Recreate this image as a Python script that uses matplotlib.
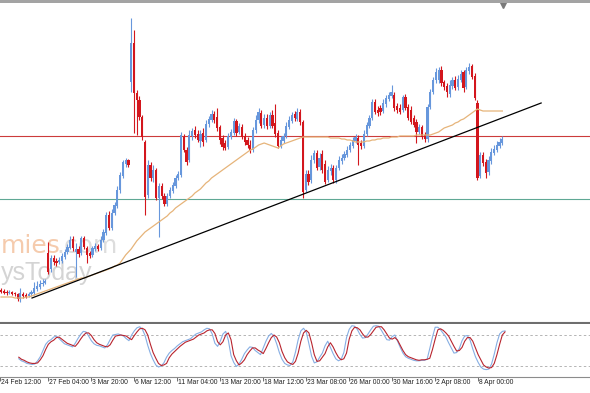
import numpy as np
import matplotlib
matplotlib.use("Agg")
import matplotlib.pyplot as plt
from matplotlib.patches import Rectangle
from matplotlib.transforms import blended_transform_factory

# 4H candles, prices in chart points (the price scale is cropped off in the screenshot)
opens = [110, 109, 108, 107, 108, 107, 106, 101, 106, 105,
         104, 106, 107, 111, 113, 116, 117, 147, 131, 142,
         139, 138, 139, 143, 148, 152, 161, 148, 151, 147,
         162, 152, 147, 145, 151, 154, 152, 160, 167, 185,
         172, 187, 194, 210, 224, 236, 240, 318, 357, 307,
         300, 283, 258, 205, 235, 222, 230, 202, 214, 204,
         196, 204, 209, 214, 222, 225, 263, 250, 240, 264,
         270, 266, 259, 267, 260, 276, 280, 286, 283, 273,
         262, 257, 253, 263, 267, 279, 268, 273, 264, 260,
         255, 250, 270, 280, 287, 275, 282, 274, 285, 277,
         267, 254, 259, 264, 273, 279, 286, 281, 288, 278,
         210, 226, 220, 240, 247, 233, 246, 236, 220, 229,
         232, 220, 232, 239, 242, 245, 250, 254, 259, 262,
         257, 254, 266, 274, 282, 298, 290, 292, 289, 296,
         301, 304, 305, 294, 292, 290, 303, 293, 290, 282,
         278, 268, 273, 265, 261, 293, 308, 320, 320, 330,
         318, 314, 306, 314, 320, 313, 320, 328, 313, 329,
         334, 324, 297, 224, 245, 238, 228, 239, 247, 250,
         254, 257]
closes = [108, 107, 107, 108, 106, 106, 101, 107, 104, 103,
          106, 108, 112, 114, 116, 117, 119, 128, 142, 138,
          137, 140, 144, 148, 153, 160, 152, 151, 146, 162,
          153, 145, 144, 152, 154, 151, 160, 168, 185, 172,
          187, 195, 210, 225, 238, 240, 235, 357, 307, 300,
          283, 263, 203, 235, 222, 230, 202, 214, 204, 196,
          204, 210, 215, 222, 226, 265, 250, 238, 265, 269,
          265, 260, 266, 258, 276, 281, 286, 280, 272, 260,
          253, 252, 264, 268, 279, 267, 274, 263, 258, 255,
          249, 270, 280, 288, 274, 282, 274, 285, 274, 266,
          254, 260, 264, 274, 280, 285, 282, 288, 278, 208,
          226, 218, 240, 247, 232, 242, 230, 218, 230, 232,
          220, 232, 240, 242, 246, 250, 255, 260, 263, 255,
          254, 266, 275, 282, 298, 288, 287, 288, 297, 302,
          305, 308, 292, 290, 288, 303, 292, 282, 278, 275,
          268, 273, 263, 261, 293, 308, 320, 328, 330, 317,
          313, 308, 315, 320, 312, 321, 326, 312, 330, 333,
          323, 302, 222, 245, 237, 227, 240, 248, 251, 255,
          258, 261]
highs = [112, 111, 110, 110, 109, 108, 107, 112, 108, 107,
         108, 110, 118, 119, 120, 121, 121, 158, 145, 145,
         142, 143, 147, 151, 156, 164, 164, 157, 154, 164,
         164, 154, 149, 154, 157, 156, 164, 171, 188, 189,
         191, 198, 214, 228, 240, 242, 241, 382, 370, 310,
         304, 285, 260, 240, 238, 235, 232, 217, 217, 207,
         207, 213, 218, 225, 229, 268, 266, 253, 270, 272,
         274, 270, 270, 272, 280, 284, 290, 289, 292, 275,
         265, 260, 267, 271, 282, 281, 277, 276, 267, 263,
         260, 273, 285, 292, 290, 286, 286, 288, 290, 296,
         270, 264, 267, 278, 284, 288, 289, 292, 291, 280,
         230, 230, 245, 250, 250, 247, 250, 240, 234, 236,
         235, 235, 244, 246, 249, 254, 258, 263, 266, 265,
         260, 270, 278, 285, 301, 301, 294, 295, 301, 305,
         308, 315, 308, 297, 296, 305, 306, 296, 294, 285,
         281, 276, 275, 268, 296, 311, 323, 332, 333, 334,
         320, 317, 320, 323, 324, 325, 330, 330, 333, 337,
         336, 327, 300, 248, 248, 241, 244, 252, 255, 259,
         262, 264]
lows = [107, 106, 105, 106, 105, 104, 99, 98, 102, 102,
        103, 104, 105, 109, 111, 114, 116, 126, 128, 135,
        134, 136, 137, 141, 146, 151, 149, 123, 143, 145,
        151, 137, 142, 143, 149, 149, 150, 158, 165, 170,
        170, 185, 192, 207, 222, 233, 233, 308, 267, 265,
        280, 260, 185, 202, 219, 218, 200, 163, 201, 194,
        194, 202, 207, 212, 220, 223, 248, 235, 238, 260,
        262, 258, 253, 254, 258, 273, 278, 277, 269, 256,
        250, 250, 251, 261, 265, 264, 266, 261, 255, 252,
        247, 248, 267, 277, 272, 272, 271, 272, 272, 263,
        252, 252, 257, 262, 271, 277, 279, 279, 275, 202,
        208, 215, 217, 237, 230, 230, 227, 216, 218, 225,
        217, 217, 230, 236, 240, 243, 248, 252, 257, 235,
        251, 252, 264, 272, 280, 286, 284, 285, 287, 293,
        299, 302, 289, 287, 286, 288, 290, 280, 276, 273,
        257, 266, 261, 258, 258, 291, 306, 317, 317, 314,
        310, 303, 303, 311, 310, 310, 318, 308, 311, 326,
        321, 300, 220, 222, 234, 222, 225, 236, 245, 248,
        252, 255]

# moving average (orange)
ma_line = [103, 103, 103, 103, 103, 102, 102, 102, 102, 103,
           103, 104, 105, 106, 107, 108, 109, 110, 111, 112,
           113, 114, 115, 116, 117, 118, 119, 120, 121, 122,
           122, 123, 124, 125, 126, 127, 128, 129, 130, 131,
           132, 134, 135, 137, 141, 145, 148, 151, 155, 159,
           162, 165, 168, 170, 172, 174, 176, 178, 180, 182,
           184, 187, 189, 192, 194, 196, 198, 200, 202, 204,
           207, 209, 211, 214, 217, 219, 222, 224, 226, 228,
           230, 232, 234, 236, 238, 240, 242, 244, 246, 248,
           250, 251, 253, 255, 256, 257, 256, 255, 254, 253,
           252, 254, 256, 257, 258, 259, 260, 261, 262, 263,
           263, 263, 263, 263, 263, 263, 263, 263, 263, 262,
           262, 262, 262, 261, 261, 260, 260, 259, 258, 258,
           258, 258, 259, 259, 260, 260, 261, 261, 262, 262,
           262, 263, 263, 263, 264, 264, 264, 264, 264, 264,
           265, 265, 265, 265, 265, 265, 266, 267, 268, 270,
           272, 273, 274, 275, 277, 278, 280, 281, 283, 285,
           287, 289, 291, 290, 289, 289, 289, 289, 289, 289,
           289, 289]

# stochastic oscillator: main (blue) and signal (red)
stoch_main = [34, 30, 28, 25, 24, 23, 24, 30, 38, 50,
              62, 68, 71, 76, 78, 73, 68, 63, 61, 59,
              57, 64, 73, 81, 87, 86, 78, 69, 63, 60,
              59, 57, 55, 61, 71, 80, 81, 82, 80, 78,
              73, 69, 80, 88, 94, 96, 91, 79, 60, 44,
              32, 22, 18, 20, 26, 37, 45, 50, 54, 59,
              63, 67, 69, 71, 73, 78, 82, 84, 86, 90,
              93, 92, 82, 64, 58, 68, 82, 87, 70, 40,
              27, 19, 24, 33, 44, 51, 57, 56, 50, 46,
              42, 55, 68, 78, 83, 77, 63, 46, 33, 25,
              22, 21, 28, 47, 71, 88, 93, 86, 63, 39,
              26, 28, 37, 45, 59, 68, 56, 44, 34, 30,
              33, 46, 75, 91, 98, 97, 91, 81, 74, 75,
              82, 90, 97, 98, 97, 89, 80, 71, 70, 77,
              80, 68, 56, 45, 38, 35, 33, 31, 30, 30,
              31, 31, 33, 54, 76, 95, 95, 90, 83, 76,
              65, 55, 45, 46, 54, 69, 78, 79, 70, 53,
              38, 27, 18, 14, 13, 14, 24, 43, 65, 82,
              87, 88]
stoch_signal = [37, 33, 31, 28, 26, 25, 25, 26, 32, 40,
                52, 62, 67, 70, 75, 76, 72, 68, 64, 62,
                60, 58, 64, 72, 79, 84, 84, 79, 71, 65,
                62, 60, 58, 57, 61, 70, 78, 79, 80, 79,
                78, 74, 71, 79, 86, 92, 93, 90, 80, 62,
                46, 35, 25, 21, 22, 25, 36, 43, 48, 53,
                58, 62, 66, 68, 70, 72, 76, 80, 82, 84,
                88, 90, 90, 83, 67, 61, 67, 80, 84, 71,
                42, 30, 22, 26, 32, 42, 49, 55, 55, 51,
                48, 44, 54, 65, 75, 80, 76, 65, 48, 36,
                28, 25, 23, 29, 45, 68, 84, 89, 84, 65,
                42, 29, 30, 37, 44, 57, 65, 57, 46, 37,
                32, 34, 45, 72, 88, 95, 94, 90, 82, 76,
                76, 81, 88, 95, 96, 96, 90, 82, 74, 72,
                75, 70, 60, 50, 42, 38, 36, 34, 32, 31,
                32, 32, 33, 35, 52, 72, 90, 92, 89, 84,
                78, 68, 58, 49, 50, 56, 68, 75, 75, 68,
                55, 42, 32, 22, 18, 16, 17, 25, 42, 62,
                80, 86]

# drawn objects: trend line, horizontal levels
trend_bars = [11.2, 195.0]
trend_prices = [102, 297]
red_level = 264.5
teal_level = 200.7
stoch_levels = [20, 80]

tick_bars = [-7, 11, 27, 43, 59, 75, 91, 107, 123, 139, 155, 171]
tick_labels = ["24 Feb 12:00", "27 Feb 04:00", "3 Mar 20:00", "6 Mar 12:00",
               "11 Mar 04:00", "13 Mar 20:00", "18 Mar 12:00", "23 Mar 08:00",
               "26 Mar 00:00", "30 Mar 16:00", "2 Apr 08:00", "8 Apr 00:00"]

o = np.array(opens, dtype=float)
c = np.array(closes, dtype=float)
hi = np.array(highs, dtype=float)
lo = np.array(lows, dtype=float)
x = np.arange(len(c))

UP = '#6797dc'
DOWN = '#d3161d'
XLIM = (-0.36, 212.64)

W, H = 590, 393
fig = plt.figure(figsize=(W / 100, H / 100), dpi=100, facecolor='white')

# main price panel (pixel rows 3..323)
ax = fig.add_axes([0, 1 - 323 / H, 1, 320 / H])
ax.set_xticks([])
ax.set_yticks([])
for s in ['top', 'left', 'right']:
    ax.spines[s].set_visible(False)
ax.spines['bottom'].set_color('#6e6e6e')
ax.spines['bottom'].set_linewidth(1.5)


def px(xp, yp):
    # pixel position -> main axes fraction
    return xp / W, (323 - yp) / 320


# watermark
ax.text(*px(1, 253), "mies", transform=ax.transAxes, ha='left', va='baseline',
        fontsize=18, color='#f5cbad', zorder=0.5, family='DejaVu Sans')
ax.text(*px(56, 253), ".com", transform=ax.transAxes, ha='left', va='baseline',
        fontsize=18, color='#dddddd', zorder=0.5, family='DejaVu Sans')
ax.text(*px(1, 280), "ysToday", transform=ax.transAxes, ha='left', va='baseline',
        fontsize=18, color='#d4d4d4', zorder=0.5, family='Liberation Sans')

ax.axhline(red_level, color='#cc3b3b', lw=0.8, zorder=1)
ax.axhline(teal_level, color='#5fa894', lw=0.8, zorder=1)

colors = np.where(c >= o, UP, DOWN)
ax.vlines(x, lo, hi, colors=colors, lw=0.8, zorder=2)
ax.bar(x, np.abs(c - o), bottom=np.minimum(o, c), width=0.8,
       color=colors, linewidth=0, zorder=3)

ax.plot(x, ma_line, color='#e6b47a', lw=0.9, zorder=4)
ax.plot(trend_bars, trend_prices, color='black', lw=0.9, zorder=5)

# little shift marker at the top
ax.plot([px(503, 5)[0]], [px(503, 5)[1]], marker='v', ms=4, color='#7a7a7a',
        transform=ax.transAxes, clip_on=False, zorder=6)
ax.set_xlim(*XLIM)
ax.set_ylim(77, 397)

# top frame band
fig.add_artist(Rectangle((0, 1 - 3 / H), 1, 3 / H, transform=fig.transFigure,
                         facecolor='#a3a3a3', edgecolor='none'))

# stochastic panel (pixel rows 324..377)
ax2 = fig.add_axes([0, 1 - 377 / H, 1, 53 / H])
ax2.set_yticks([])
for s in ['top', 'left', 'right']:
    ax2.spines[s].set_visible(False)
ax2.spines['bottom'].set_color('#8c8c8c')
ax2.spines['bottom'].set_linewidth(0.8)
for lv in stoch_levels:
    ax2.axhline(lv, color='#b4b4b4', lw=0.7, ls=(0, (2.5, 2.5)))
ax2.plot(x, stoch_main, color='#86aee3', lw=0.8)
ax2.plot(x, stoch_signal, color='#b8242e', lw=0.8)
ax2.set_xlim(*XLIM)
ax2.set_ylim(-1.3, 101.3)

ax2.set_xticks(tick_bars)
ax2.set_xticklabels([])
ax2.tick_params(axis='x', length=3, width=0.7, color='#6e6e6e')

# time labels start right at their tick mark
lab_tr = blended_transform_factory(ax2.transData, fig.transFigure)
for b, lab in zip(tick_bars, tick_labels):
    ax2.text(b + 0.35, 1 - 383 / H, lab, transform=lab_tr, ha='left', va='center',
             fontsize=4.9, family=['Liberation Sans', 'DejaVu Sans'],
             color='#222222', clip_on=False)

fig.savefig('out.png', dpi=100, facecolor='white')
